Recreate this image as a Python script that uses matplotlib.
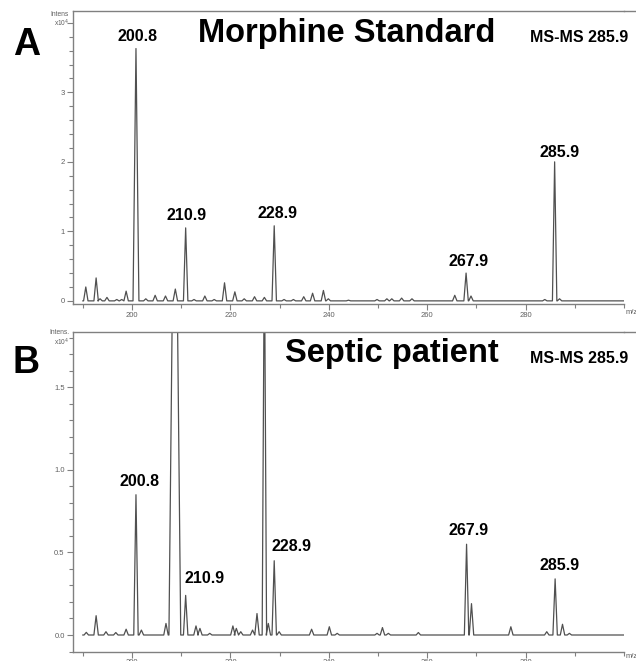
import matplotlib
matplotlib.use("Agg")
import matplotlib.pyplot as plt
from matplotlib.lines import Line2D
from matplotlib.ticker import MultipleLocator, FixedLocator

plt.rcParams["font.family"] = ["Liberation Sans", "DejaVu Sans"]

# ---------------------------------------------------------------- data
# Panel A: morphine standard, MS-MS of 285.9 (intensity in 1e4 counts)
a_mz = [190.6, 192.7, 193.5, 194.9, 196.9, 197.9, 198.8, 200.8, 202.8, 204.7,
        206.8, 208.8, 210.9, 212.6, 214.8, 216.7, 218.8, 220.9, 222.8, 224.9,
        226.9, 228.9, 230.9, 232.8, 234.9, 236.7, 238.9, 239.9, 244.0, 249.8,
        251.8, 252.8, 254.8, 256.9, 265.6, 267.9, 268.9, 283.9, 285.9, 286.9]
a_int = [0.20, 0.33, 0.03, 0.05, 0.02, 0.02, 0.14, 3.63, 0.03, 0.08,
         0.07, 0.17, 1.05, 0.02, 0.07, 0.02, 0.26, 0.13, 0.03, 0.06,
         0.05, 1.08, 0.02, 0.02, 0.06, 0.11, 0.15, 0.03, 0.01, 0.02,
         0.03, 0.03, 0.04, 0.03, 0.08, 0.40, 0.07, 0.02, 2.00, 0.03]
a_hw = [0.45] * len(a_mz)
a_hw[a_mz.index(200.8)] = 0.6

# Panel B: septic patient sample, MS-MS of 285.9
b_mz = [190.7, 192.7, 194.7, 196.7, 198.8, 200.8, 201.9, 206.9, 208.7, 210.9,
        213.0, 213.8, 215.8, 220.5, 221.2, 222.1, 224.5, 225.4, 226.9, 227.7,
        228.9, 229.9, 236.5, 240.1, 241.7, 249.8, 250.9, 252.1, 258.2, 268.0,
        269.0, 277.0, 284.3, 286.0, 287.5, 288.9]
b_int = [0.016, 0.117, 0.02, 0.015, 0.035, 0.85, 0.03, 0.07, 3.5, 0.24,
         0.055, 0.04, 0.01, 0.055, 0.04, 0.02, 0.03, 0.13, 2.4, 0.07,
         0.45, 0.02, 0.035, 0.05, 0.01, 0.01, 0.045, 0.01, 0.015, 0.55,
         0.19, 0.05, 0.02, 0.34, 0.065, 0.01]
b_hw = [0.45] * len(b_mz)
b_hw[b_mz.index(208.7)] = 1.2

a_labels = ["200.8", "210.9", "228.9", "267.9", "285.9"]
a_label_pos = [(137, 41), (187, 220), (278, 218), (469, 266), (560, 157)]
b_labels = ["200.8", "210.9", "228.9", "267.9", "285.9"]
b_label_pos = [(139, 486), (205, 583), (291, 551), (469, 535), (560, 570)]

W, H = 636, 661


def fx(px):
    return px / W


def fy(py):
    return 1 - py / H


def profile(mz, inten, hw, lo=190.0, hi=300.0):
    xs, ys = [lo], [0.0]
    for m, h, w in sorted(zip(mz, inten, hw)):
        xs += [m - w, m, m + w]
        ys += [0.0, h, 0.0]
    xs.append(hi)
    ys.append(0.0)
    return xs, ys


def style_axes(ax, ylim, major, minor, fmt):
    ax.set_xlim(188.0, 300.0)
    ax.set_ylim(*ylim)
    for s in ("left", "bottom", "top"):
        ax.spines[s].set_color("#808080")
        ax.spines[s].set_linewidth(1.0)
    ax.spines["right"].set_visible(False)
    ax.xaxis.set_major_locator(FixedLocator([200, 220, 240, 260, 280]))
    ax.xaxis.set_minor_locator(FixedLocator([190, 210, 230, 250, 270, 290, 300]))
    ax.yaxis.set_major_locator(MultipleLocator(major))
    ax.yaxis.set_minor_locator(MultipleLocator(minor))
    ax.yaxis.set_major_formatter(fmt)
    ax.tick_params(which="both", direction="out", color="#808080", width=0.8,
                   labelsize=5.5, labelcolor="#606060", pad=2)
    ax.tick_params(which="major", length=4)
    ax.tick_params(which="minor", length=3)


fig = plt.figure(figsize=(6.36, 6.61), dpi=100)

ax_a = fig.add_axes([fx(73), fy(304), fx(624) - fx(73), fy(11) - fy(304)])
ax_b = fig.add_axes([fx(73), fy(652), fx(624) - fx(73), fy(332) - fy(652)])

x, y = profile(a_mz, a_int, a_hw)
ax_a.plot(x, y, color="#505050", lw=0.9)
style_axes(ax_a, (-0.045, 4.17), 1, 0.2,
           lambda v, p: "%d" % round(v) if round(v) < 4 else "")

x, y = profile(b_mz, b_int, b_hw)
ax_b.plot(x, y, color="#505050", lw=0.9)
style_axes(ax_b, (-0.103, 1.836), 0.5, 0.1,
           lambda v, p: "%.1f" % v if v < 1.6 else "")
ax_b.tick_params(axis="x", pad=1)

# extend top frame lines to the right edge
for top in (11, 332):
    fig.add_artist(Line2D([fx(624), 1.0], [fy(top), fy(top)],
                          color="#808080", lw=1.0))

# axis annotations
for (ix, iy), txt in [((69, 15), "Intens"), ((69, 333), "Intens.")]:
    fig.text(fx(ix), fy(iy), txt, ha="right", va="center", fontsize=4.8, color="#606060")
for ix, iy in [(69, 23), (69, 342)]:
    fig.text(fx(ix), fy(iy), r"x10$^4$", ha="right", va="center", fontsize=4.8, color="#606060")
for iy in (313, 657):
    fig.text(fx(626), fy(iy), "m/z", ha="left", va="center", fontsize=5.5, color="#606060")

# titles and panel letters
fig.text(fx(27), fy(55), "A", ha="center", va="baseline", fontsize=27, fontweight="bold")
fig.text(fx(26), fy(373), "B", ha="center", va="baseline", fontsize=27, fontweight="bold")
fig.text(fx(347), fy(42), "Morphine Standard", ha="center", va="baseline",
         fontsize=23.5, fontweight="bold")
fig.text(fx(392), fy(362), "Septic patient", ha="center", va="baseline",
         fontsize=23.5, fontweight="bold")
fig.text(fx(579), fy(42), "MS-MS 285.9", ha="center", va="baseline",
         fontsize=11.5, fontweight="bold")
fig.text(fx(579), fy(363), "MS-MS 285.9", ha="center", va="baseline",
         fontsize=11.5, fontweight="bold")

for txt, (px, py) in zip(a_labels, a_label_pos):
    fig.text(fx(px), fy(py), txt, ha="center", va="baseline", fontsize=11.5, fontweight="bold")
for txt, (px, py) in zip(b_labels, b_label_pos):
    fig.text(fx(px), fy(py), txt, ha="center", va="baseline", fontsize=11.5, fontweight="bold")

fig.savefig("out.png", dpi=100)
